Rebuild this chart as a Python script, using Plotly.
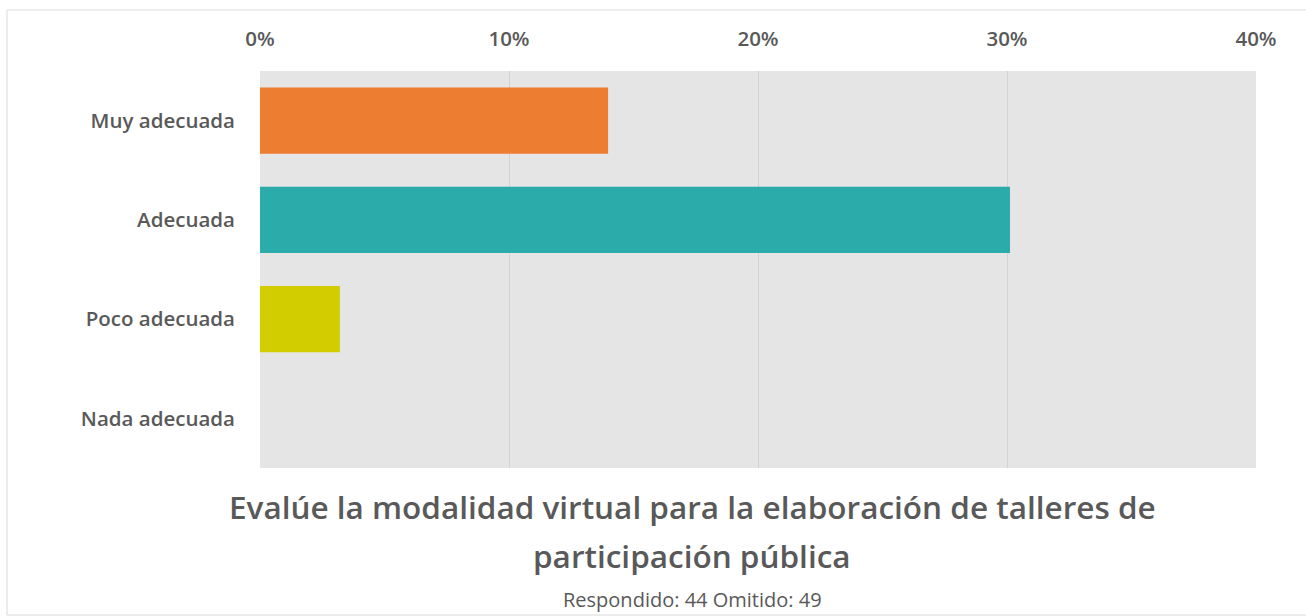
import plotly.graph_objects as go

categories = ["Muy adecuada", "Adecuada", "Poco adecuada", "Nada adecuada"]
values = [13.98, 30.12, 3.21, 0.0]
colors = ["#EC7D31", "#2BACAA", "#D1CD00", "#A5A5A5"]
tick_vals = [0, 10, 20, 30, 40]
tick_text = ["0%", "10%", "20%", "30%", "40%"]
title_lines = ["Evalúe la modalidad virtual para la elaboración de talleres de",
               "participación pública"]
subtitle = "Respondido: 44 Omitido: 49"

W, H = 1306, 616
L, R, T, B = 260, 50, 71, 148
pw, ph = W - L - R, H - T - B

def px_x(x):
    return (x - L) / pw

def px_y(y):
    return 1 - (y - T) / ph

fig = go.Figure(go.Bar(
    x=values, y=categories, orientation="h",
    marker=dict(color=colors, line=dict(width=0)),
    hoverinfo="x+y",
))

font_family = "Open Sans, Noto Sans, sans-serif"
txt = "#595959"

fig.update_layout(
    width=W, height=H,
    margin=dict(l=L, r=R, t=T, b=B),
    paper_bgcolor="white",
    plot_bgcolor="#E6E5E6",
    bargap=0.335,
    showlegend=False,
    xaxis=dict(
        side="top", range=[0, 40], tickvals=tick_vals, ticktext=tick_text,
        showgrid=True, gridcolor="#D2D2D2", gridwidth=1,
        zeroline=False, showline=False, ticks="",
        ticklabelstandoff=20,
        tickfont=dict(family=font_family, size=20.5, color=txt, weight=600),
        fixedrange=True,
    ),
    yaxis=dict(
        categoryorder="array", categoryarray=categories[::-1],
        showgrid=False, zeroline=False, showline=False, ticks="",
        ticklabelstandoff=24,
        tickfont=dict(family=font_family, size=20.5, color=txt, weight=600),
        fixedrange=True,
    ),
    font=dict(family=font_family, color=txt),
)

cx = px_x(692)
fig.add_annotation(text=title_lines[0], xref="paper", yref="paper",
                   x=cx, y=px_y(506), showarrow=False, xanchor="center", yanchor="middle",
                   font=dict(family=font_family, size=31.5, color=txt, weight=600))
fig.add_annotation(text=title_lines[1], xref="paper", yref="paper",
                   x=cx, y=px_y(555), showarrow=False, xanchor="center", yanchor="middle",
                   font=dict(family=font_family, size=31.5, color=txt, weight=600))
fig.add_annotation(text=subtitle, xref="paper", yref="paper",
                   x=cx, y=px_y(599), showarrow=False, xanchor="center", yanchor="middle",
                   font=dict(family=font_family, size=20, color=txt))

# outer frame
fig.add_shape(type="rect", xref="paper", yref="paper",
              x0=px_x(7), x1=px_x(1330), y0=px_y(615), y1=px_y(10),
              line=dict(color="#D9D9D9", width=1), fillcolor="rgba(0,0,0,0)", layer="below")

fig.write_html("out.html", config={"displayModeBar": False},
               post_script="document.body.style.margin='0px';")
